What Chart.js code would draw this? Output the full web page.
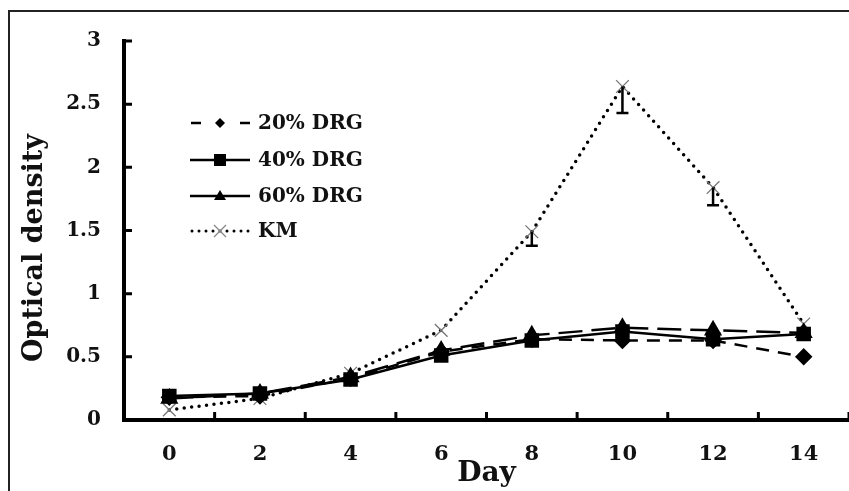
<!DOCTYPE html>
<html>
<head>
<meta charset="utf-8">
<script src="https://cdn.jsdelivr.net/npm/chart.js@4.4.0/dist/chart.umd.min.js"></script>
<style>
  html, body { margin: 0; padding: 0; background: #fff; overflow: hidden; width: 849px; height: 491px; }
  #c { display: block; }
</style>
</head>
<body>
<canvas id="c" width="860" height="491" style="width:860px;height:491px"></canvas>
<script>
const days = ['0', '2', '4', '6', '8', '10', '12', '14'];
const drg20 = [0.18, 0.19, 0.33, 0.54, 0.64, 0.63, 0.63, 0.50];
const drg40 = [0.19, 0.21, 0.32, 0.51, 0.63, 0.70, 0.64, 0.68];
const drg60 = [0.17, 0.21, 0.34, 0.55, 0.67, 0.73, 0.71, 0.69];
const km    = [0.08, 0.17, 0.37, 0.71, 1.49, 2.64, 1.84, 0.76];
const kmErr = [0, 0, 0, 0, 0.11, 0.21, 0.14, 0];
const yTicks = [0, 0.5, 1, 1.5, 2, 2.5, 3];
const yTickLabels = ['0', '0.5', '1', '1.5', '2', '2.5', '3'];
const legendLabels = ['20% DRG', '40% DRG', '60% DRG', 'KM'];

const FONT = "'DejaVu Serif', serif";

const framePlugin = {
  id: 'frame',
  afterDraw(chart) {
    const ctx = chart.ctx;
    ctx.save();
    ctx.strokeStyle = '#222';
    ctx.lineWidth = 2;
    ctx.beginPath();
    ctx.moveTo(9, 491);
    ctx.lineTo(9, 11);
    ctx.lineTo(860, 11);
    ctx.stroke();
    ctx.restore();
  }
};

const tickPlugin = {
  id: 'innerTicks',
  afterDraw(chart) {
    const ctx = chart.ctx;
    const xs = chart.scales.x, ys = chart.scales.y;
    const area = chart.chartArea;
    ctx.save();
    ctx.strokeStyle = '#000';
    ctx.lineWidth = 3;
    ctx.beginPath();
    yTicks.forEach(v => {
      if (v === 0) return;
      const y = ys.getPixelForValue(v);
      ctx.moveTo(area.left, y);
      ctx.lineTo(area.left + 8, y);
    });
    for (let i = 0; i < days.length; i++) {
      const a = xs.getPixelForValue(i);
      const b = i + 1 < days.length ? xs.getPixelForValue(i + 1) : a + (a - xs.getPixelForValue(i - 1));
      const x = (a + b) / 2;
      ctx.moveTo(x, area.bottom);
      ctx.lineTo(x, area.bottom - 8);
    }
    ctx.stroke();
    ctx.restore();
  }
};

const errPlugin = {
  id: 'errBars',
  afterDatasetsDraw(chart) {
    const ctx = chart.ctx;
    const xs = chart.scales.x, ys = chart.scales.y;
    ctx.save();
    ctx.strokeStyle = '#000';
    ctx.lineWidth = 2.5;
    ctx.setLineDash([]);
    km.forEach((v, i) => {
      if (!kmErr[i]) return;
      const x = xs.getPixelForValue(i);
      const y1 = ys.getPixelForValue(v);
      const y2 = ys.getPixelForValue(v - kmErr[i]);
      ctx.beginPath();
      ctx.moveTo(x, y1);
      ctx.lineTo(x, y2);
      ctx.moveTo(x - 6, y2);
      ctx.lineTo(x + 6, y2);
      ctx.stroke();
    });
    ctx.restore();
  }
};

const legendPlugin = {
  id: 'customLegend',
  afterDraw(chart) {
    const ctx = chart.ctx;
    const rows = [123, 160, 196, 231];
    const x0 = 190, x1 = 250, xm = 220;
    ctx.save();
    ctx.strokeStyle = '#000';
    ctx.fillStyle = '#000';
    ctx.lineWidth = 2.5;
    let y = rows[0];
    ctx.beginPath();
    ctx.moveTo(191, y); ctx.lineTo(201, y);
    ctx.moveTo(240, y); ctx.lineTo(250, y);
    ctx.stroke();
    ctx.beginPath();
    ctx.moveTo(xm, y - 5); ctx.lineTo(xm + 5, y); ctx.lineTo(xm, y + 5); ctx.lineTo(xm - 5, y); ctx.closePath();
    ctx.fill();
    y = rows[1];
    ctx.beginPath(); ctx.moveTo(x0, y); ctx.lineTo(x1, y); ctx.stroke();
    ctx.fillRect(xm - 6, y - 6, 12, 12);
    y = rows[2];
    ctx.beginPath(); ctx.moveTo(x0, y); ctx.lineTo(x1, y); ctx.stroke();
    ctx.beginPath();
    ctx.moveTo(xm, y - 6); ctx.lineTo(xm + 6, y + 4); ctx.lineTo(xm - 6, y + 4); ctx.closePath();
    ctx.fill();
    y = rows[3];
    ctx.lineCap = 'round';
    ctx.lineWidth = 3;
    ctx.setLineDash([0, 7]);
    ctx.beginPath(); ctx.moveTo(x0 + 2, y); ctx.lineTo(x1, y); ctx.stroke();
    ctx.setLineDash([]);
    ctx.lineCap = 'butt';
    ctx.strokeStyle = '#888';
    ctx.lineWidth = 1.3;
    ctx.beginPath();
    ctx.moveTo(xm - 6, y - 6); ctx.lineTo(xm + 6, y + 6);
    ctx.moveTo(xm + 6, y - 6); ctx.lineTo(xm - 6, y + 6);
    ctx.stroke();
    ctx.fillStyle = '#111';
    ctx.font = "bold 20px " + FONT;
    ctx.textBaseline = 'middle';
    ctx.textAlign = 'left';
    legendLabels.forEach((t, i) => ctx.fillText(t, 258, rows[i] + 1));
    ctx.restore();
  }
};

const yTitlePlugin = {
  id: 'yTitle',
  afterDraw(chart) {
    const ctx = chart.ctx;
    ctx.save();
    ctx.translate(35, 248);
    ctx.rotate(-Math.PI / 2);
    ctx.fillStyle = '#111';
    ctx.font = "bold 27px " + FONT;
    ctx.textAlign = 'center';
    ctx.textBaseline = 'middle';
    ctx.fillText('Optical density', 0, 0);
    ctx.restore();
  }
};

new Chart(document.getElementById('c'), {
  type: 'line',
  data: {
    labels: days,
    datasets: [
      {
        label: legendLabels[0], data: drg20,
        borderColor: '#000', backgroundColor: '#000', borderWidth: 2.5,
        borderDash: [13, 9], pointStyle: 'rectRot', pointRadius: 7,
        pointBackgroundColor: '#000', pointBorderColor: '#000', tension: 0
      },
      {
        label: legendLabels[1], data: drg40,
        borderColor: '#000', backgroundColor: '#000', borderWidth: 2.5,
        pointStyle: 'rect', pointRadius: 8.5,
        pointBackgroundColor: '#000', pointBorderColor: '#000', tension: 0
      },
      {
        label: legendLabels[2], data: drg60,
        borderColor: '#000', backgroundColor: '#000', borderWidth: 2.5,
        borderDash: [24, 9], pointStyle: 'triangle', pointRadius: 8,
        pointBackgroundColor: '#000', pointBorderColor: '#000', tension: 0
      },
      {
        label: legendLabels[3], data: km,
        borderColor: '#000', backgroundColor: 'transparent', borderWidth: 3.5,
        borderDash: [0, 7.5], borderCapStyle: 'round',
        pointStyle: 'crossRot', pointRadius: 9,
        pointBorderColor: '#777', pointBorderWidth: 1.3, tension: 0
      }
    ]
  },
  options: {
    responsive: false,
    animation: false,
    events: [],
    layout: { padding: { top: 41, right: 7, left: 0, bottom: 0 } },
    plugins: { legend: { display: false }, tooltip: { enabled: false } },
    scales: {
      x: {
        type: 'category',
        offset: true,
        grid: { display: false, drawTicks: false },
        border: { display: true, color: '#000', width: 4 },
        ticks: { color: '#111', font: { family: FONT, size: 21, weight: 'bold' }, padding: 22, maxRotation: 0 },
        title: { display: true, text: 'Day', color: '#111', font: { family: FONT, size: 28, weight: 'bold' }, padding: { top: 0, bottom: 0 } },
        afterFit(s) { s.height = 71; }
      },
      y: {
        min: 0, max: 3,
        afterBuildTicks(s) { s.ticks = yTicks.map(v => ({ value: v })); },
        grid: { display: false, drawTicks: false },
        border: { display: true, color: '#000', width: 4 },
        ticks: {
          color: '#111', font: { family: FONT, size: 20, weight: 'bold' }, padding: 23,
          callback(value) { const i = yTicks.indexOf(value); return i >= 0 ? yTickLabels[i] : ''; }
        },
        afterFit(s) { s.width = 124; }
      }
    }
  },
  plugins: [framePlugin, tickPlugin, errPlugin, legendPlugin, yTitlePlugin]
});
</script>
</body>
</html>
